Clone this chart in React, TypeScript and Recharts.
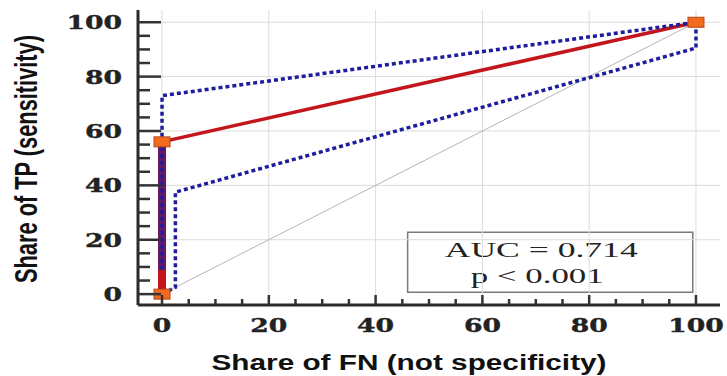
import React from "react"
import { LineChart, Line, XAxis, YAxis, ReferenceLine, ReferenceArea } from "recharts"

// ROC curve and its confidence band (x = FN share, y = TP share)
const rocCurve = [
  { x: 0, y: 0 },
  { x: 0, y: 56 },
  { x: 100, y: 100 },
]
const upperBand = [
  { x: 0, y: 9 },
  { x: 0, y: 73 },
  { x: 100, y: 100 },
]
const lowerBand = [
  { x: 0, y: 0 },
  { x: 2.5, y: 2.5 },
  { x: 2.5, y: 37.5 },
  { x: 100, y: 90.5 },
  { x: 100, y: 100 },
]
const chanceLine = [
  { x: 0, y: 0 },
  { x: 100, y: 100 },
]

const axisTicks = [0, 5, 10, 15, 20, 25, 30, 35, 40, 45, 50, 55, 60, 65, 70, 75, 80, 85, 90, 95, 100]
const gridTicks = [0, 20, 40, 60, 80, 100]
const aucText = "AUC = 0.714"
const pText = "p < 0.001"
const xTitle = "Share of FN (not specificity)"
const yTitle = "Share of TP (sensitivity)"

const BLUE = "#1d1d9e"
const RED = "#c3161c"
const AXIS = "#2b2b2b"
const tickFont = "'DejaVu Serif', serif"

// stretch where the band runs along the vertical step of the curve
const overlap = [upperBand[0], rocCurve[1]]

// eslint-disable-next-line @typescript-eslint/no-explicit-any
const YTick = (props: any) => {
  const { x, y, payload } = props
  const v = payload.value
  const major = v % 20 === 0
  const label = String(v)
  return (
    <g>
      <path d={`M${x},${y}h${major ? 23 : 12}`} stroke="#333" strokeWidth={2.5} fill="none" />
      {major && (
        <text
          x={x - 16}
          y={y + 7}
          textAnchor="end"
          fontFamily={tickFont}
          fontWeight="bold"
          fontSize={19}
          fill="#222"
          stroke="#222"
          strokeWidth={0.4}
          textLength={label.length * 18.5}
          lengthAdjust="spacingAndGlyphs"
        >
          {label}
        </text>
      )}
    </g>
  )
}

// eslint-disable-next-line @typescript-eslint/no-explicit-any
const XTick = (props: any) => {
  const { x, y, payload } = props
  const v = payload.value
  const major = v % 20 === 0
  const label = String(v)
  return (
    <g>
      <path d={`M${x},${y}v${major ? -10 : -6}`} stroke="#333" strokeWidth={2.5} fill="none" />
      {major && (
        <text
          x={x}
          y={y + 27}
          textAnchor="middle"
          fontFamily={tickFont}
          fontWeight="bold"
          fontSize={19}
          fill="#222"
          stroke="#222"
          strokeWidth={0.4}
          textLength={label.length * 18.5}
          lengthAdjust="spacingAndGlyphs"
        >
          {label}
        </text>
      )}
    </g>
  )
}

// eslint-disable-next-line @typescript-eslint/no-explicit-any
const Marker = (props: any) => {
  const { cx, cy } = props
  if (cx == null || cy == null) return null
  return <rect x={cx - 8} y={cy - 5} width={16} height={10} fill="#f26a1e" stroke="#b4461c" strokeWidth={1} />
}

// eslint-disable-next-line @typescript-eslint/no-explicit-any
const AucLabel = (props: any) => {
  const vb = props.viewBox || {}
  const cx = vb.x + vb.width / 2 - 9
  return (
    <g fontFamily="'Liberation Serif', 'Times New Roman', serif" fontSize={22} fill="#222">
      <text x={cx} y={vb.y + 25} textAnchor="middle" textLength={193} lengthAdjust="spacingAndGlyphs">
        {aucText}
      </text>
      <text x={cx - 4} y={vb.y + 51} textAnchor="middle" textLength={133} lengthAdjust="spacingAndGlyphs">
        {pText}
      </text>
    </g>
  )
}

export default function App() {
  return (
    <div style={{ position: "absolute", left: 0, top: 0, width: 727, height: 376, background: "#fff" }}>
      <LineChart width={727} height={376} margin={{ top: 10, right: 7, left: 0, bottom: 0 }}>
        <XAxis
          type="number"
          dataKey="x"
          domain={[-4.5, 104.5]}
          ticks={axisTicks}
          interval={0}
          height={71}
          tickSize={0}
          tickMargin={0}
          tickLine={false}
          axisLine={{ stroke: AXIS, strokeWidth: 3 }}
          tick={<XTick />}
          allowDataOverflow
        />
        <YAxis
          type="number"
          dataKey="y"
          domain={[-4, 104.5]}
          ticks={axisTicks}
          interval={0}
          width={138}
          tickSize={0}
          tickMargin={0}
          tickLine={false}
          axisLine={{ stroke: AXIS, strokeWidth: 3 }}
          tick={<YTick />}
          allowDataOverflow
        />
        {gridTicks.map((t) => (
          <ReferenceLine key={`v-${t}`} x={t} stroke="#dcdcdc" strokeWidth={1} />
        ))}
        {gridTicks
          .filter((t) => t > 0)
          .map((t) => (
            <ReferenceLine key={`h-${t}`} y={t} stroke="#dcdcdc" strokeWidth={1} />
          ))}
        <ReferenceArea
          x1={46}
          x2={99.4}
          y1={0.7}
          y2={22.8}
          fill="#fff"
          fillOpacity={1}
          stroke="#7a7a7a"
          strokeWidth={1.5}
          label={<AucLabel />}
        />
        <Line data={chanceLine} dataKey="y" stroke="#b5b5b5" strokeWidth={1} dot={false} isAnimationActive={false} />
        {/* vertical part of the ROC step is drawn heavier, as in the source */}
        <Line data={rocCurve.slice(0, 2)} dataKey="y" stroke={RED} strokeWidth={8} dot={false} isAnimationActive={false} />
        <Line data={rocCurve} dataKey="y" stroke={RED} strokeWidth={3.5} dot={false} isAnimationActive={false} />
        <Line
          data={overlap}
          dataKey="y"
          stroke={BLUE}
          strokeOpacity={0.55}
          strokeWidth={8}
          dot={false}
          isAnimationActive={false}
        />
        <Line
          data={upperBand}
          dataKey="y"
          stroke={BLUE}
          strokeWidth={3.5}
          strokeDasharray="4 3"
          dot={false}
          isAnimationActive={false}
        />
        <Line
          data={lowerBand}
          dataKey="y"
          stroke={BLUE}
          strokeWidth={3.5}
          strokeDasharray="4 3"
          dot={false}
          isAnimationActive={false}
        />
        <Line data={rocCurve} dataKey="y" stroke="none" dot={<Marker />} isAnimationActive={false} />
      </LineChart>
      <svg width={727} height={376} style={{ position: "absolute", left: 0, top: 0, pointerEvents: "none" }}>
        <text
          transform="translate(37,159) scale(1.45,1) rotate(-90)"
          textAnchor="middle"
          fontFamily="'Liberation Sans', Arial, sans-serif"
          fontWeight="bold"
          fontSize={21}
          fill="#111"
          textLength={248}
          lengthAdjust="spacingAndGlyphs"
        >
          {yTitle}
        </text>
        <text
          x={409}
          y={370}
          textAnchor="middle"
          fontFamily="'Liberation Sans', Arial, sans-serif"
          fontWeight="bold"
          fontSize={22}
          fill="#111"
          textLength={395}
          lengthAdjust="spacingAndGlyphs"
        >
          {xTitle}
        </text>
      </svg>
    </div>
  )
}
